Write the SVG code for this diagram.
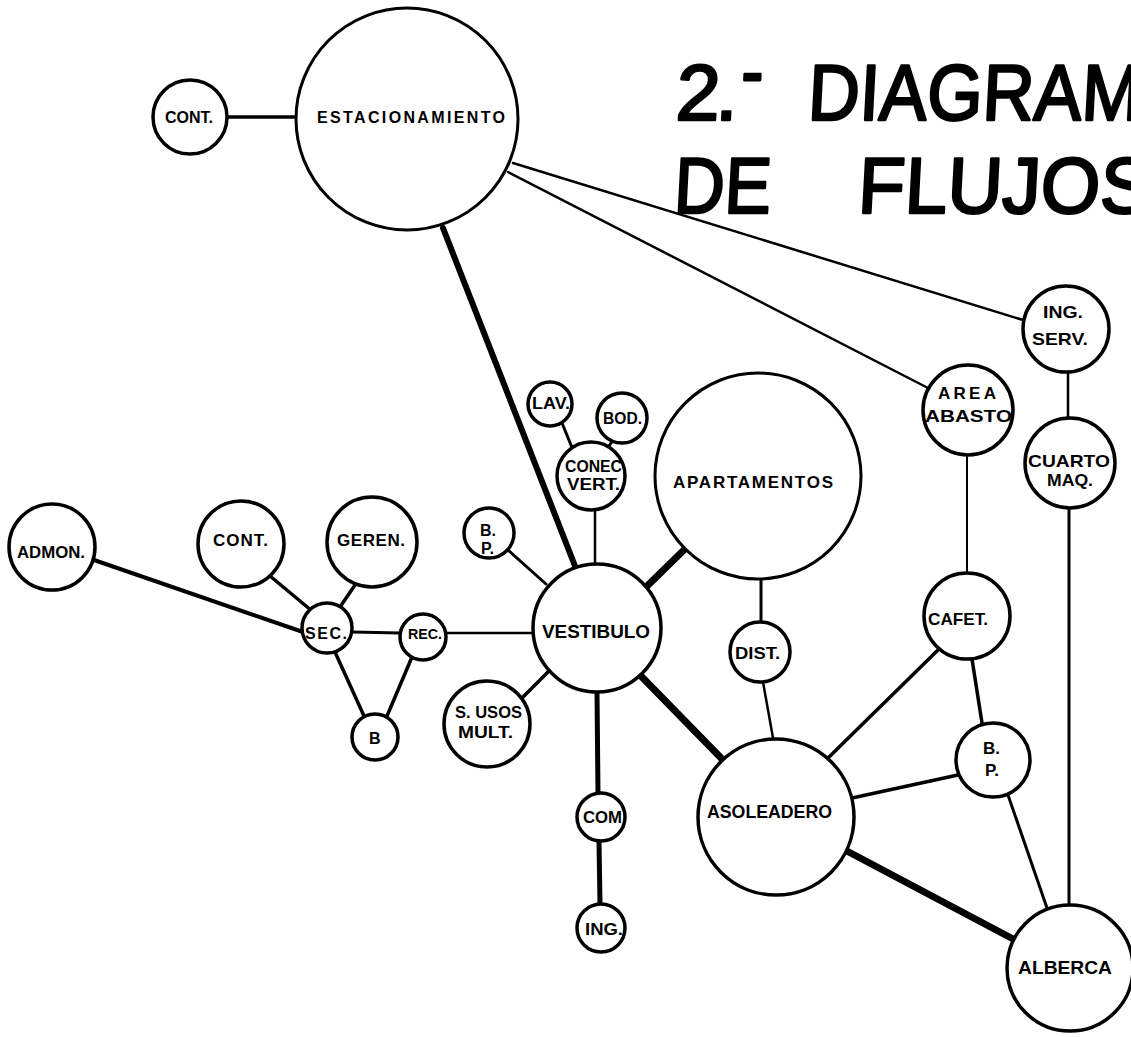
<svg xmlns="http://www.w3.org/2000/svg" width="1131" height="1037" viewBox="0 0 1131 1037">
<style>
.n{fill:#fff;stroke:#000;stroke-width:3.5}
.nb{fill:#fff;stroke:#000;stroke-width:3}
.c{stroke:#000;stroke-linecap:round;fill:none}
.t{font-family:"Liberation Sans",Arial,sans-serif;font-weight:bold;fill:#000}
.ti{font-family:"Liberation Sans",Arial,sans-serif;font-weight:normal;fill:#000;stroke:#000;stroke-width:2.6;stroke-linejoin:round;font-size:79px}
</style>
<rect width="1131" height="1037" fill="#fff"/>
<g id="title">
<g transform="translate(0,120) skewX(-3) translate(0,-120)">
<text class="ti" x="675" y="120" textLength="62" lengthAdjust="spacing">2.</text>
<text class="ti" x="739" y="98" textLength="22" lengthAdjust="spacingAndGlyphs">-</text>
<text class="ti" x="807" y="120" textLength="333" lengthAdjust="spacingAndGlyphs">DIAGRAM</text>
</g>
<g transform="translate(0,213) skewX(-3) translate(0,-213)">
<text class="ti" x="673" y="213" textLength="97" lengthAdjust="spacingAndGlyphs">DE</text>
<text class="ti" x="857" y="213" textLength="293" lengthAdjust="spacingAndGlyphs">FLUJOS</text>
</g>
</g>
<g id="connectors">
<line class="c" x1="227" y1="117" x2="297" y2="117" stroke-width="3.5"/>
<line class="c" x1="443" y1="228" x2="575" y2="566" stroke-width="6"/>
<line class="c" x1="513" y1="163" x2="1023" y2="320" stroke-width="2.5"/>
<line class="c" x1="508" y1="172" x2="928" y2="388" stroke-width="2.5"/>
<line class="c" x1="1068" y1="372" x2="1068" y2="418" stroke-width="2.5"/>
<line class="c" x1="967" y1="456" x2="967" y2="573" stroke-width="2"/>
<line class="c" x1="1069" y1="509" x2="1069" y2="905" stroke-width="3"/>
<line class="c" x1="972" y1="659" x2="982" y2="723" stroke-width="3.5"/>
<line class="c" x1="1008" y1="795" x2="1047" y2="908" stroke-width="3"/>
<line class="c" x1="828" y1="758" x2="938" y2="650" stroke-width="3.5"/>
<line class="c" x1="852" y1="798" x2="958" y2="775" stroke-width="3.5"/>
<line class="c" x1="845" y1="850" x2="1015" y2="940" stroke-width="7"/>
<line class="c" x1="763" y1="682" x2="773" y2="738" stroke-width="2.5"/>
<line class="c" x1="761" y1="579" x2="761" y2="622" stroke-width="3"/>
<line class="c" x1="643" y1="590" x2="687" y2="547" stroke-width="7"/>
<line class="c" x1="640" y1="675" x2="723" y2="760" stroke-width="7"/>
<line class="c" x1="597" y1="692" x2="598" y2="793" stroke-width="5"/>
<line class="c" x1="599" y1="841" x2="600" y2="904" stroke-width="5"/>
<line class="c" x1="523" y1="697" x2="549" y2="671" stroke-width="3.5"/>
<line class="c" x1="508" y1="550" x2="546" y2="584" stroke-width="3"/>
<line class="c" x1="595" y1="510" x2="595" y2="564" stroke-width="2.5"/>
<line class="c" x1="562" y1="423" x2="573" y2="450" stroke-width="3"/>
<line class="c" x1="613" y1="440" x2="607" y2="449" stroke-width="3"/>
<line class="c" x1="445" y1="633" x2="534" y2="633" stroke-width="2.5"/>
<line class="c" x1="352" y1="632" x2="400" y2="633" stroke-width="3"/>
<line class="c" x1="94" y1="560" x2="303" y2="632" stroke-width="4"/>
<line class="c" x1="270" y1="576" x2="312" y2="611" stroke-width="3.5"/>
<line class="c" x1="355" y1="585" x2="340" y2="607" stroke-width="3.5"/>
<line class="c" x1="335" y1="652" x2="364" y2="716" stroke-width="3.5"/>
<line class="c" x1="412" y1="657" x2="387" y2="716" stroke-width="3.5"/>
</g>
<g id="estacionamiento"><circle class="nb" cx="407" cy="119" r="111"/><text class="t" x="317" y="123" font-size="16" textLength="188" lengthAdjust="spacing">ESTACIONAMIENTO</text></g>
<g id="cont-top"><circle class="n" cx="190" cy="117" r="37"/><text class="t" x="165" y="123" font-size="16" textLength="48" lengthAdjust="spacingAndGlyphs">CONT.</text></g>
<g id="ing-serv"><circle class="n" cx="1066" cy="329" r="43"/><text class="t" x="1043" y="318" font-size="17" textLength="40" lengthAdjust="spacingAndGlyphs">ING.</text><text class="t" x="1032" y="345" font-size="17" textLength="56" lengthAdjust="spacingAndGlyphs">SERV.</text></g>
<g id="area-abasto"><circle class="n" cx="968" cy="410" r="45"/><text class="t" x="938" y="399" font-size="17" textLength="58" lengthAdjust="spacing">AREA</text><text class="t" x="925" y="422" font-size="17" textLength="87" lengthAdjust="spacingAndGlyphs">ABASTO</text></g>
<g id="cuarto-maq"><circle class="n" cx="1070" cy="463" r="45"/><text class="t" x="1028" y="467" font-size="17" textLength="82" lengthAdjust="spacingAndGlyphs">CUARTO</text><text class="t" x="1047" y="486" font-size="17" textLength="46" lengthAdjust="spacingAndGlyphs">MAQ.</text></g>
<g id="cafet"><circle class="n" cx="967" cy="616" r="43"/><text class="t" x="928" y="625" font-size="17" textLength="60" lengthAdjust="spacingAndGlyphs">CAFET.</text></g>
<g id="bp-right"><circle class="n" cx="993" cy="760" r="37"/><text class="t" x="983" y="754" font-size="17">B.</text><text class="t" x="985" y="776" font-size="17">P.</text></g>
<g id="alberca"><circle class="n" cx="1070" cy="968" r="63"/><text class="t" x="1018" y="974" font-size="18" textLength="94" lengthAdjust="spacingAndGlyphs">ALBERCA</text></g>
<g id="asoleadero"><circle class="n" cx="776" cy="817" r="78"/><text class="t" x="707" y="818" font-size="18" textLength="125" lengthAdjust="spacingAndGlyphs">ASOLEADERO</text></g>
<g id="dist"><circle class="n" cx="760" cy="652" r="30"/><text class="t" x="735" y="659" font-size="17" textLength="45" lengthAdjust="spacingAndGlyphs">DIST.</text></g>
<g id="apartamentos"><circle class="nb" cx="758" cy="476" r="103"/><text class="t" x="673" y="488" font-size="17" textLength="160" lengthAdjust="spacing">APARTAMENTOS</text></g>
<g id="vestibulo"><circle class="n" cx="597" cy="628" r="64"/><text class="t" x="542" y="638" font-size="18" textLength="108" lengthAdjust="spacingAndGlyphs">VESTIBULO</text></g>
<g id="conec-vert"><circle class="n" cx="591" cy="476" r="34"/><text class="t" x="565" y="472" font-size="16" textLength="57" lengthAdjust="spacingAndGlyphs">CONEC</text><text class="t" x="567" y="490" font-size="16" textLength="53" lengthAdjust="spacingAndGlyphs">VERT.</text></g>
<g id="lav"><circle class="n" cx="550" cy="404" r="22"/><text class="t" x="532" y="409" font-size="16" textLength="38" lengthAdjust="spacingAndGlyphs">LAV.</text></g>
<g id="bod"><circle class="n" cx="622" cy="418" r="25"/><text class="t" x="603" y="424" font-size="16" textLength="39" lengthAdjust="spacingAndGlyphs">BOD.</text></g>
<g id="bp-left"><circle class="n" cx="489" cy="533" r="25"/><text class="t" x="480" y="536" font-size="16">B.</text><text class="t" x="481" y="554" font-size="16">P.</text></g>
<g id="s-usos-mult"><circle class="n" cx="487" cy="724" r="43"/><text class="t" x="455" y="718" font-size="16" textLength="67" lengthAdjust="spacingAndGlyphs">S. USOS</text><text class="t" x="458" y="738" font-size="16" textLength="55" lengthAdjust="spacingAndGlyphs">MULT.</text></g>
<g id="com"><circle class="n" cx="601" cy="817" r="24"/><text class="t" x="583" y="823" font-size="16" textLength="39" lengthAdjust="spacingAndGlyphs">COM</text></g>
<g id="ing"><circle class="n" cx="601" cy="928" r="24"/><text class="t" x="585" y="935" font-size="16" textLength="38" lengthAdjust="spacingAndGlyphs">ING.</text></g>
<g id="rec"><circle class="n" cx="423" cy="637" r="23"/><text class="t" x="408" y="639" font-size="15" textLength="34" lengthAdjust="spacingAndGlyphs">REC.</text></g>
<g id="sec"><circle class="n" cx="327" cy="628" r="25"/><text class="t" x="305" y="639" font-size="16" textLength="42" lengthAdjust="spacing">SEC.</text></g>
<g id="b"><circle class="n" cx="375" cy="737" r="23"/><text class="t" x="369" y="744" font-size="16">B</text></g>
<g id="admon"><circle class="n" cx="52" cy="547" r="43"/><text class="t" x="17" y="558" font-size="17" textLength="68" lengthAdjust="spacingAndGlyphs">ADMON.</text></g>
<g id="cont"><circle class="n" cx="241" cy="544" r="43"/><text class="t" x="213" y="546" font-size="17" textLength="55" lengthAdjust="spacing">CONT.</text></g>
<g id="geren"><circle class="n" cx="372" cy="542" r="45"/><text class="t" x="337" y="546" font-size="17" textLength="68" lengthAdjust="spacing">GEREN.</text></g>
</svg>
